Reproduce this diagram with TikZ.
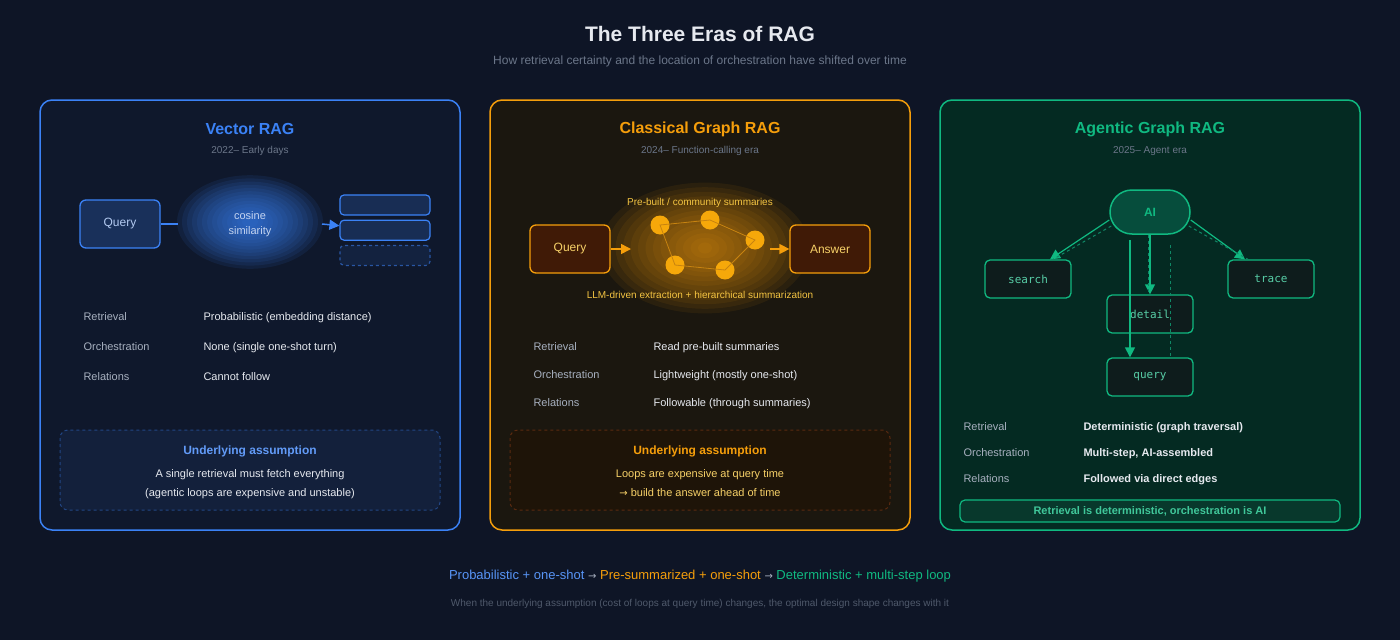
\documentclass[tikz,border=0pt]{standalone}
\usepackage{fontspec}
\setmainfont{Liberation Sans}
\setmonofont{DejaVu Sans Mono}
\newfontfamily\arrowfont{DejaVu Sans}
\usetikzlibrary{positioning,arrows.meta}
\definecolor{bg}{HTML}{0E1526}
\definecolor{vblue}{HTML}{3B82F6}
\definecolor{vorange}{HTML}{F59E0B}
\definecolor{vgreen}{HTML}{10B981}
\definecolor{vyellow}{HTML}{F5C542}
\definecolor{muted}{HTML}{6B7689}
\definecolor{soft}{HTML}{A7B0BF}
\definecolor{bright}{HTML}{E6E9EF}
\definecolor{opanel}{HTML}{1B170F}
\definecolor{gpanel}{HTML}{042A22}
\definecolor{bpanel}{HTML}{0F182C}
\definecolor{obox}{HTML}{401A06}
\definecolor{oassline}{HTML}{5A2A10}
\definecolor{oassfill}{HTML}{1E1408}
\definecolor{gtool}{HTML}{0E1C1C}
\definecolor{gai}{HTML}{064D3C}
\definecolor{gmotto}{HTML}{08382C}
\newcommand{\arr}{{\arrowfont\fontsize{10}{12}\selectfont →}}
\begin{document}
\begin{tikzpicture}[x=1pt,y=-1pt,>={Triangle[length=10pt,width=10pt]},
    panel/.style={draw,line width=1.5pt,rounded corners=12pt},
    box/.style={draw,line width=1.3pt,rounded corners=6pt,minimum width=80pt,minimum height=48pt,font=\fontsize{12}{14}\selectfont},
    tool/.style={draw=vgreen,fill=gtool,line width=1.3pt,rounded corners=5pt,minimum width=86pt,minimum height=38pt,text=vgreen!70!white,font=\ttfamily\fontsize{11}{13}\selectfont},
    key/.style={anchor=base west,text=soft,font=\fontsize{11}{13}\selectfont},
    val/.style={anchor=base west,text=bright,font=\fontsize{11}{13}\selectfont},
    hub/.style={circle,fill=vorange!90!yellow,inner sep=0pt,minimum size=19pt}]
  \fill[bg] (0,0) rectangle (1400,640);
  \node[text=bright,font=\bfseries\fontsize{21}{25}\selectfont] (title) at (700,34) {The Three Eras of RAG};
  \node[text=muted,font=\fontsize{12}{14}\selectfont] (subtitle) at (700,61) {How retrieval certainty and the location of orchestration have shifted over time};

  % Vector RAG
  \draw[panel,draw=vblue,fill=bpanel] (40,100) rectangle (460,530);
  \node[text=vblue,font=\bfseries\fontsize{16}{19}\selectfont] (vtitle) at (250,129) {Vector RAG};
  \node[text=muted,font=\fontsize{10}{12}\selectfont] (vsub) at (250,151) {2022– Early days};
  \foreach \r in {1,...,14}
    \fill[vblue,opacity=0.09] (250,222) ellipse ({78-5*\r} and {50-3.2*\r});
  \node[text=bright!80!vblue,align=center,font=\fontsize{11}{15}\selectfont] (cos) at (250,224) {cosine\\similarity};
  \node[box,draw=vblue,fill=vblue!25!bg,text=bright!70!vblue] (vq) at (120,224) {Query};
  \coordinate (cosin) at (178,224);
  \draw[vblue,line width=1.5pt] (vq) -- (cosin);
  \node[draw=vblue,fill=vblue!22!bg,line width=1.2pt,rounded corners=4pt,minimum width=90pt,minimum height=20pt] (doc1) at (385,205) {};
  \node[draw=vblue,fill=vblue!22!bg,line width=1.2pt,rounded corners=4pt,minimum width=90pt,minimum height=20pt,below=4pt of doc1] (doc2) {};
  \node[draw=vblue!60!bg,fill=vblue!12!bg,dashed,line width=1.2pt,rounded corners=4pt,minimum width=90pt,minimum height=20pt,below=4pt of doc2] (doc3) {};
  \coordinate (cosout) at (322,224);
  \draw[->,vblue,line width=1.5pt] (cosout) -- (doc2);
  \foreach \y/\k/\v in {320/Retrieval/Probabilistic (embedding distance),350/Orchestration/None (single one-shot turn),380/Relations/Cannot follow} {
    \node[key] at (80,\y) {\k};
    \node[val] at (200,\y) {\v};
  }
  \draw[vblue!45!bg,dashed,line width=1pt,fill=vblue!10!bg,rounded corners=8pt] (60,430) rectangle (440,510);
  \node[text=vblue!80!white,font=\bfseries\fontsize{12}{14}\selectfont] (vass) at (250,451) {Underlying assumption};
  \node[text=bright,align=center,font=\fontsize{11}{19}\selectfont] (vasst) at (250,484) {A single retrieval must fetch everything\\(agentic loops are expensive and unstable)};

  % Classical Graph RAG
  \draw[panel,draw=vorange,fill=opanel] (490,100) rectangle (910,530);
  \node[text=vorange,font=\bfseries\fontsize{16}{19}\selectfont] (ctitle) at (700,129) {Classical Graph RAG};
  \node[text=muted,font=\fontsize{10}{12}\selectfont] (csub) at (700,151) {2024– Function-calling era};
  \foreach \r in {1,...,14}
    \fill[vorange,opacity=0.07] (705,248) ellipse ({112-7.5*\r} and {70-4.6*\r});
  \node[text=vyellow,font=\fontsize{10}{12}\selectfont] (prebuilt) at (700,203) {Pre-built / community summaries};
  \node[text=vyellow,font=\fontsize{10}{12}\selectfont] (llm) at (700,295) {LLM-driven extraction + hierarchical summarization};
  \node[box,draw=vorange,fill=obox,text=vyellow!80!white] (cq) at (570,249) {Query};
  \node[box,draw=vorange,fill=obox,text=vyellow!80!white] (ans) at (830,249) {Answer};
  \node[hub] (h1) at (660,225) {};
  \node[hub] (h2) at (710,220) {};
  \node[hub] (h3) at (755,240) {};
  \node[hub] (h4) at (725,270) {};
  \node[hub] (h5) at (675,265) {};
  \draw[vorange!80!bg,line width=0.8pt] (h1.center) -- (h2.center) -- (h3.center) -- (h4.center) -- (h5.center) -- cycle;
  \coordinate (gin) at (631,249);
  \coordinate (gout) at (770,249);
  \draw[->,vorange,line width=1.5pt] (cq) -- (gin);
  \draw[->,vorange,line width=1.5pt] (gout) -- (ans);
  \foreach \y/\k/\v in {350/Retrieval/Read pre-built summaries,378/Orchestration/Lightweight (mostly one-shot),406/Relations/Followable (through summaries)} {
    \node[key] at (530,\y) {\k};
    \node[val] at (650,\y) {\v};
  }
  \draw[oassline,dashed,line width=1pt,fill=oassfill,rounded corners=8pt] (510,430) rectangle (890,510);
  \node[text=vorange,font=\bfseries\fontsize{12}{14}\selectfont] (cass) at (700,451) {Underlying assumption};
  \node[text=vyellow!80!white,align=center,font=\fontsize{11}{19}\selectfont] (casst) at (700,483) {Loops are expensive at query time\\\arr{} build the answer ahead of time};

  % Agentic Graph RAG
  \draw[panel,draw=vgreen,fill=gpanel] (940,100) rectangle (1360,530);
  \node[text=vgreen,font=\bfseries\fontsize{16}{19}\selectfont] (atitle) at (1150,129) {Agentic Graph RAG};
  \node[text=muted,font=\fontsize{10}{12}\selectfont] (asub) at (1150,151) {2025– Agent era};
  \node[draw=vgreen,fill=gai,line width=1.5pt,rounded corners=22pt,minimum width=80pt,minimum height=44pt,text=vgreen,font=\bfseries\fontsize{12}{14}\selectfont] (ai) at (1150,212) {AI};
  \node[tool] (search) at (1028,279) {search};
  \node[tool] (trace) at (1271,279) {trace};
  \node[tool] (detail) at (1150,314) {detail};
  \node[tool] (query) at (1150,377) {query};
  \draw[->,vgreen,line width=1.2pt] (ai.west) ++(0,8) -- ([xshift=22pt]search.north);
  \draw[vgreen!70!bg,dashed,line width=1pt] ([shift={(2,14)}]ai.west) -- ([xshift=25pt]search.north);
  \draw[->,vgreen,line width=1.2pt] (ai.east) ++(0,8) -- ([xshift=-26pt]trace.north);
  \draw[vgreen!70!bg,dashed,line width=1pt] ([shift={(-2,14)}]ai.east) -- ([xshift=-23pt]trace.north);
  \draw[->,vgreen,line width=1.3pt] (ai) -- (detail);
  \draw[vgreen!70!bg,dashed,line width=1pt] ([xshift=-2pt]ai.south) -- ([xshift=-2pt]detail.north);
  \coordinate (qtop) at (1130,240);
  \draw[->,vgreen,line width=1.3pt] (qtop) -- (qtop |- query.north);
  \coordinate (dtop) at (1170,245);
  \draw[vgreen!70!bg,dashed,line width=1pt] (dtop) -- (dtop |- query.north);
  \foreach \y/\k/\v in {430/Retrieval/Deterministic (graph traversal),456/Orchestration/{Multi-step, AI-assembled},482/Relations/Followed via direct edges} {
    \node[key] at (960,\y) {\k};
    \node[val,font=\bfseries\fontsize{11}{13}\selectfont] at (1080,\y) {\v};
  }
  \node[draw=vgreen,fill=gmotto,line width=1.2pt,rounded corners=5pt,minimum width=380pt,minimum height=22pt,text=vgreen!80!white,font=\bfseries\fontsize{11}{13}\selectfont] (motto) at (1150,511) {Retrieval is deterministic, orchestration is AI};

  % summary
  \node[font=\fontsize{13}{15}\selectfont] (summary) at (700,576) {\textcolor{vblue!85!white}{Probabilistic + one-shot} \textcolor{soft}{\arr} \textcolor{vorange}{Pre-summarized + one-shot} \textcolor{soft}{\arr} \textcolor{vgreen}{Deterministic + multi-step loop}};
  \node[text=muted!70!bg,font=\fontsize{10}{12}\selectfont] (footer) at (700,604) {When the underlying assumption (cost of loops at query time) changes, the optimal design shape changes with it};
\end{tikzpicture}
\end{document}
